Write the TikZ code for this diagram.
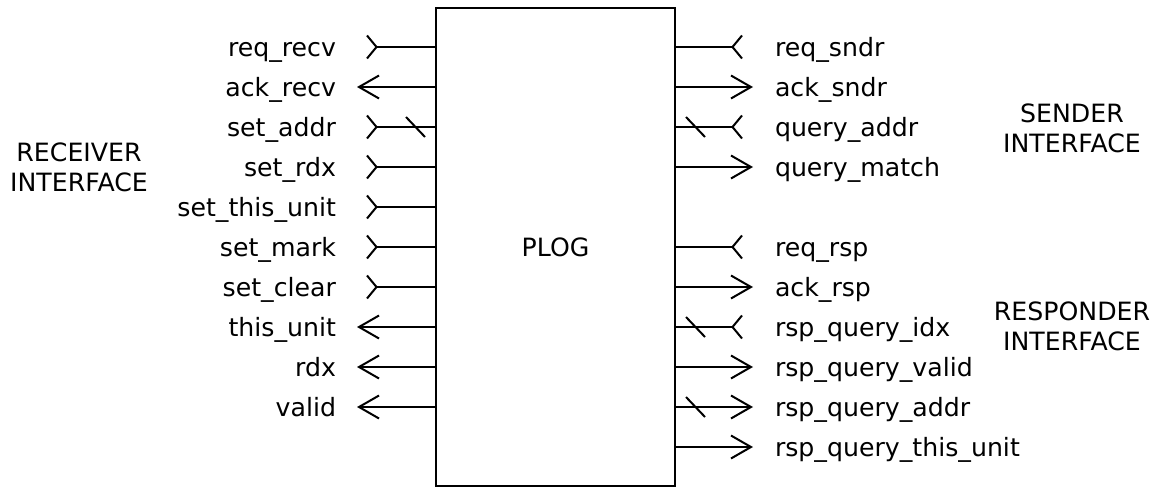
\documentclass[tikz,border=0pt]{standalone}
\usepackage{fontspec}
\setmainfont{DejaVu Sans}
\usetikzlibrary{arrows.meta,decorations.markings}
\begin{document}
\begin{tikzpicture}[x=0.5pt,y=-0.5pt,line width=1pt,
  lbl/.style={font=\fontsize{12.6}{15}\selectfont,inner sep=0pt},
  outsig/.style={-{Straight Barb[length=10pt,width=11.5pt]}},
  insig/.style={-{Straight Barb[reversed,length=4.75pt,width=11.5pt]}},
  bus/.style={postaction={decorate},
    decoration={markings,mark=at position 9.75pt with
      {\draw[-,line width=1pt] (-4.75pt,5pt) -- (4.75pt,-5pt);}}},
  nobus/.style={}]
\useasboundingbox (0,0) rectangle (1161,487);

% the block itself
\node[draw,lbl,minimum width=119.5pt,minimum height=239pt] (plog) at (555.5,247) {PLOG};

% receiver side ports
\foreach \i/\lab/\kind/\xe/\b in {
  1/req\_recv/insig/366/nobus,
  2/ack\_recv/outsig/357/nobus,
  3/set\_addr/insig/366/bus,
  4/set\_rdx/insig/366/nobus,
  5/set\_this\_unit/insig/366/nobus,
  6/set\_mark/insig/366/nobus,
  7/set\_clear/insig/366/nobus,
  8/this\_unit/outsig/357/nobus,
  9/rdx/outsig/357/nobus,
  10/valid/outsig/357/nobus}{
  \pgfmathsetmacro\yy{7+40*\i}
  \coordinate (L\i) at (\xe,\yy);
  \draw[\kind,\b] (plog.west |- L\i) -- (L\i);
  \node[lbl,anchor=base east] (ln\i) at (337,{\yy+9}) {\lab};
}

% sender and responder side ports
\foreach \i/\lab/\kind/\xe/\b in {
  1/req\_sndr/insig/743/nobus,
  2/ack\_sndr/outsig/753/nobus,
  3/query\_addr/insig/743/bus,
  4/query\_match/outsig/753/nobus,
  6/req\_rsp/insig/743/nobus,
  7/ack\_rsp/outsig/753/nobus,
  8/rsp\_query\_idx/insig/743/bus,
  9/rsp\_query\_valid/outsig/753/nobus,
  10/rsp\_query\_addr/outsig/753/bus,
  11/rsp\_query\_this\_unit/outsig/753/nobus}{
  \pgfmathsetmacro\yy{7+40*\i}
  \coordinate (R\i) at (\xe,\yy);
  \draw[\kind,\b] (plog.east |- R\i) -- (R\i);
  \node[lbl,anchor=base west] (rn\i) at (774,{\yy+9}) {\lab};
}

% interface group captions
\node[lbl,align=center] (recv) at (79,167.5) {RECEIVER\\INTERFACE};
\node[lbl,align=center] (sndr) at (1072,128.5) {SENDER\\INTERFACE};
\node[lbl,align=center] (resp) at (1072,326.5) {RESPONDER\\INTERFACE};
\end{tikzpicture}
\end{document}
